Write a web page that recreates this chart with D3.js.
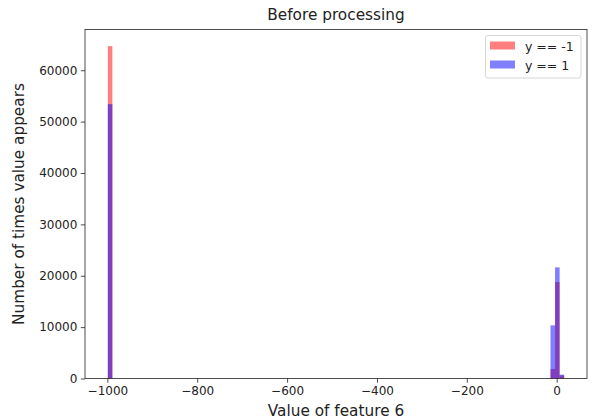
<!DOCTYPE html>
<html>
<head>
<meta charset="utf-8">
<script src="https://cdn.jsdelivr.net/npm/d3@7"></script>
<style>
  body { margin: 0; background: #fff; }
  text { font-family: "DejaVu Sans", sans-serif; fill: #000; }
</style>
</head>
<body>
<div id="chart"></div>
<script>
// histogram bins that hold counts (all other bins are empty)
var binLo = [-999, -13.78, -3.62, 6.53];
var binHi = [-988.84, -3.62, 6.53, 16.69];
var countNeg = [64700, 1850, 18770, 600];   // y == -1
var countPos = [53400, 10350, 21630, 750];  // y == 1
var dataMin = -999, dataMax = 16.69;

var xTicks = [-1000, -800, -600, -400, -200, 0];
var yTicks = [0, 10000, 20000, 30000, 40000, 50000, 60000];
var seriesNames = ["y == -1", "y == 1"];
var seriesColors = ["rgba(255,0,0,0.5)", "rgba(0,0,255,0.5)"];

var width = 592, height = 420;
var margin = {top: 29.5, right: 5, bottom: 41.5, left: 85};
var w = width - margin.left - margin.right;
var h = height - margin.top - margin.bottom;

var svg = d3.select("#chart").append("svg")
    .attr("width", width)
    .attr("height", height);

var g = svg.append("g")
    .attr("transform", "translate(" + margin.left + "," + margin.top + ")");

// matplotlib style 5% padding on x, 5% headroom on y
var pad = (dataMax - dataMin) * 0.05;
var x = d3.scaleLinear().domain([dataMin - pad, dataMax + pad]).range([0, w]);
var yMax = d3.max(countNeg.concat(countPos)) * 1.05;
var y = d3.scaleLinear().domain([0, yMax]).range([h, 0]);

var series = [countNeg, countPos];
series.forEach(function(counts, si) {
    g.selectAll(".bar" + si)
        .data(counts)
        .enter().append("rect")
        .attr("class", "bar" + si)
        .attr("x", function(d, i) { return x(binLo[i]); })
        .attr("width", function(d, i) { return x(binHi[i]) - x(binLo[i]); })
        .attr("y", function(d) { return y(d); })
        .attr("height", function(d) { return h - y(d); })
        .attr("fill", seriesColors[si]);
});

// axes
var xAxis = d3.axisBottom(x).tickValues(xTicks).tickSize(4.2).tickPadding(3.5)
    .tickFormat(function(d) { return d < 0 ? "\u2212" + Math.abs(d) : d; });
var yAxis = d3.axisLeft(y).tickValues(yTicks).tickSize(4.2).tickPadding(3.5)
    .tickFormat(d3.format("d"));

var gx = g.append("g").attr("transform", "translate(0," + h + ")").call(xAxis);
var gy = g.append("g").call(yAxis);
[gx, gy].forEach(function(a) {
    a.select(".domain").remove();
    a.selectAll("line").attr("stroke", "#222").attr("stroke-width", 0.8);
    a.selectAll("text").style("font-size", "12px").style("fill", "#222");
});

// frame
g.append("rect")
    .attr("x", 0).attr("y", 0).attr("width", w).attr("height", h)
    .attr("fill", "none").attr("stroke", "#222").attr("stroke-width", 0.8);

// labels
svg.append("text")
    .attr("x", margin.left + w / 2).attr("y", 20)
    .attr("text-anchor", "middle")
    .style("font-size", "15.3px")
    .style("fill", "#222")
    .text("Before processing");

svg.append("text")
    .attr("x", margin.left + w / 2).attr("y", 416)
    .attr("text-anchor", "middle")
    .style("font-size", "15.3px")
    .style("fill", "#222")
    .text("Value of feature 6");

svg.append("text")
    .attr("transform", "translate(24," + (margin.top + h / 2) + ") rotate(-90)")
    .attr("text-anchor", "middle")
    .style("font-size", "15.3px")
    .style("fill", "#222")
    .text("Number of times value appears");

// legend
var lg = svg.append("g").attr("transform", "translate(485,35)");
lg.append("rect")
    .attr("x", 0.5).attr("y", 0.5).attr("width", 95.5).attr("height", 42.5)
    .attr("rx", 2.5)
    .attr("fill", "#fff").attr("fill-opacity", 0.8)
    .attr("stroke", "#ccc").attr("stroke-width", 0.8);
seriesNames.forEach(function(name, i) {
    lg.append("rect")
        .attr("x", 5).attr("y", 6.5 + i * 19)
        .attr("width", 25).attr("height", 8)
        .attr("fill", seriesColors[i]);
    lg.append("text")
        .attr("x", 40).attr("y", 15.5 + i * 19)
        .style("font-size", "12.5px")
        .style("fill", "#222")
        .text(name);
});
</script>
</body>
</html>
